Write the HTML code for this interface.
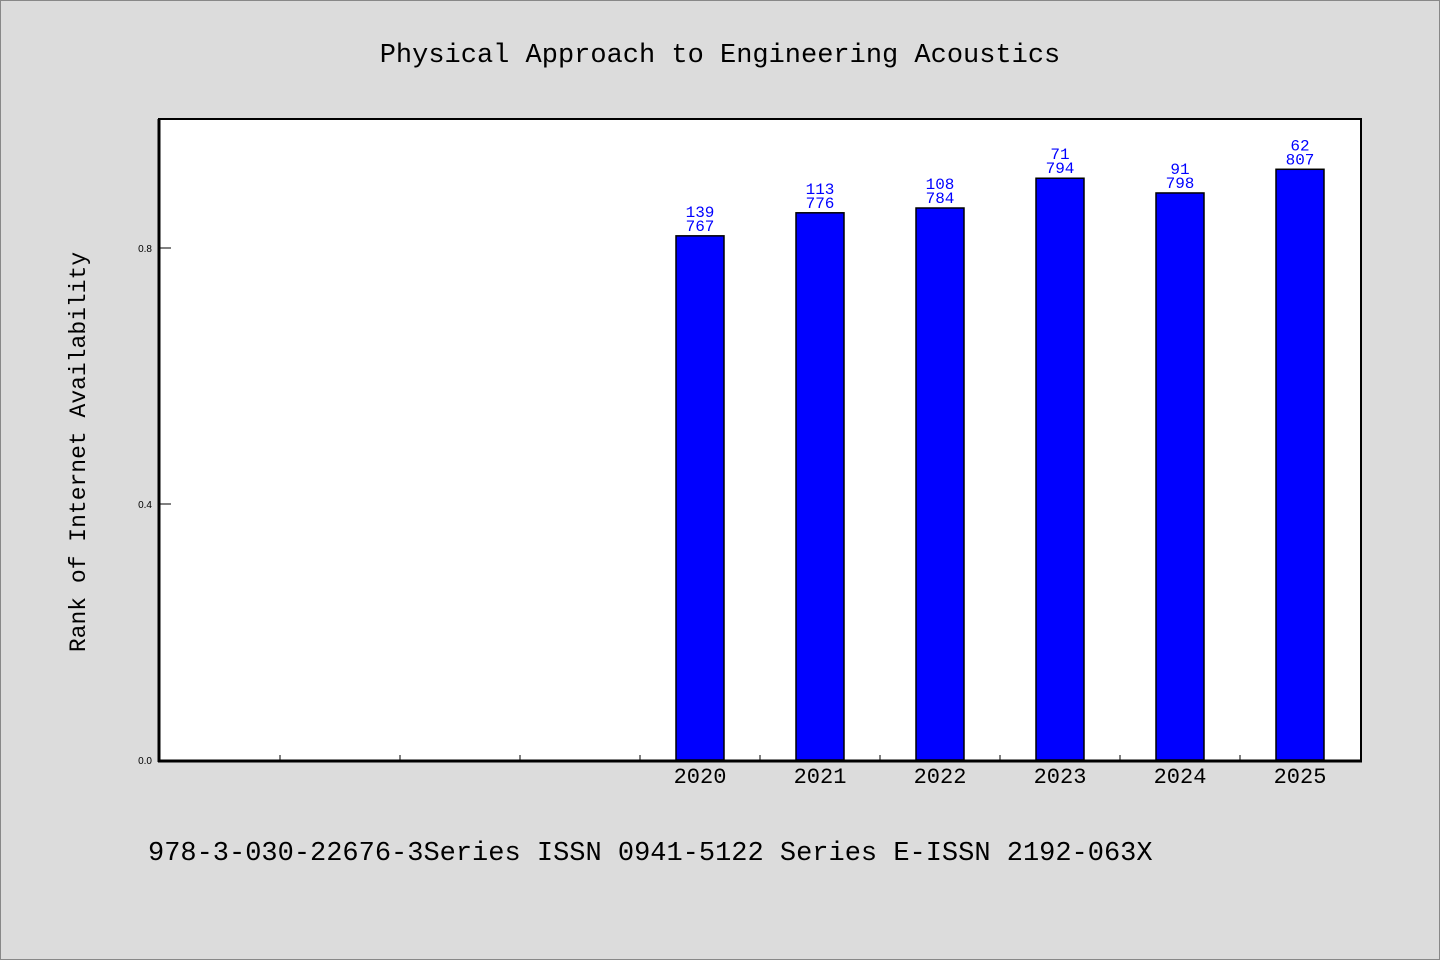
<!DOCTYPE html>
<html><head><meta charset="utf-8"><style>
html,body{margin:0;padding:0;background:#dcdcdc;}
svg{display:block;}
text{font-family:"WenQuanYi Zen Hei","Liberation Mono",monospace;}
</style></head><body>
<svg id="chart" width="1440" height="960" xmlns="http://www.w3.org/2000/svg">
<rect x="0.5" y="0.5" width="1439" height="959" fill="#dcdcdc" stroke="#888"/>
<text x="720" y="62" font-size="27" text-anchor="middle">Physical Approach to Engineering Acoustics</text>
<rect x="159" y="119" width="1202" height="642" fill="#fff" stroke="#000" stroke-width="2"/>
<text transform="translate(85,452) rotate(-90)" font-size="23" text-anchor="middle">Rank of Internet Availability</text>
<text x="148" y="860" font-size="27">978-3-030-22676-3Series ISSN 0941-5122 Series E-ISSN 2192-063X</text>
<g id="marks"></g>
<line x1="159" y1="119" x2="159" y2="762" stroke="#000" stroke-width="3"/>
<line x1="158" y1="761" x2="1362" y2="761" stroke="#000" stroke-width="3"/>
</svg>
<script>
const slots = ["", "", "", "", "2020", "2021", "2022", "2023", "2024", "2025"];
const values = [null, null, null, null, 0.819, 0.855, 0.8625, 0.909, 0.886, 0.923];
const labelTop = [null, null, null, null, "139", "113", "108", "71", "91", "62"];
const labelBottom = [null, null, null, null, "767", "776", "784", "794", "798", "807"];
const yTicks = [0.0, 0.4, 0.8];
const yTickLabels = ["0.0", "0.4", "0.8"];

const NS = "http://www.w3.org/2000/svg";
const g = document.getElementById("marks");
const x0 = 159, slotW = 120, y0 = 760, pxPerUnit = 640;
const xCenter = i => x0 + slotW * i + slotW / 2 + 1;
const yPos = v => y0 - v * pxPerUnit;
function mk(tag, attrs, txt) {
  const e = document.createElementNS(NS, tag);
  for (const k in attrs) e.setAttribute(k, attrs[k]);
  if (txt !== undefined) e.textContent = txt;
  g.appendChild(e);
  return e;
}
yTicks.forEach((t, i) => {
  const l = mk("line", {x1: 159, x2: 171, y1: yPos(t), y2: yPos(t), stroke: "#000", "stroke-width": 1});
  
  
  const tx = mk("text", {x: 152, y: yPos(t) + 4, "font-size": 10, "text-anchor": "end", style: "font-family:'Liberation Sans',sans-serif"}, yTickLabels[i]);
  
  
});
for (let i = 1; i < slots.length; i++) {
  const xt = x0 + slotW * i + 1;
  const l = mk("line", {x1: xt, x2: xt, y1: 755, y2: 761, stroke: "#000", "stroke-width": 1});
  
  
}
slots.forEach((s, i) => {
  if (s) {
    const t = mk("text", {x: xCenter(i), y: 783, "font-size": 22, "text-anchor": "middle"}, s);
    
    
  }
  const v = values[i];
  if (v == null) return;
  const top = yPos(v);
  const r = mk("rect", {x: xCenter(i) - 24, y: top, width: 48, height: y0 - top, fill: "#0000ff", stroke: "#000", "stroke-width": 1.5});
  
  
  const a = mk("text", {x: xCenter(i), y: top - 19, "font-size": 16, "text-anchor": "middle", fill: "#0000ff"}, labelTop[i]);
  
  
  const b = mk("text", {x: xCenter(i), y: top - 5, "font-size": 16, "text-anchor": "middle", fill: "#0000ff"}, labelBottom[i]);
  
  
});
</script>
</body></html>
